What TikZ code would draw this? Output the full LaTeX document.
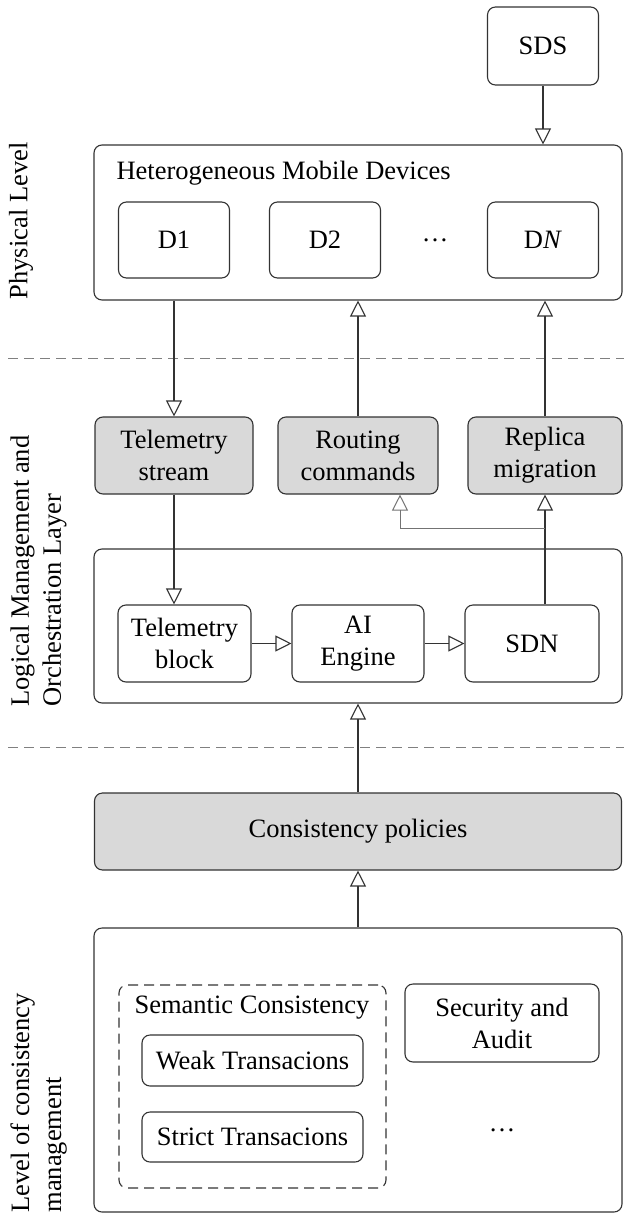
\documentclass[tikz,border=0pt]{standalone}
\usepackage{fontspec}
\setmainfont{Liberation Serif}
\usetikzlibrary{arrows.meta,calc}
\begin{document}
\begin{tikzpicture}[x=1pt,y=-1pt,
  font=\fontsize{26.5}{32}\selectfont,
  line width=1.1pt,
  box/.style={draw=black!80,rounded corners=8pt,align=center,inner sep=0pt},
  gbox/.style={box,fill=black!15},
  arr/.style={draw=black!80,-{Triangle[open,length=16pt,width=16pt]}},
  sep/.style={draw=black!50,dash pattern=on 10pt off 6pt,line width=1pt},
  lbl/.style={rotate=90,inner sep=0pt,align=left}]
\useasboundingbox (0,0) rectangle (624,1218);
% physical level
\node[box,minimum width=111pt,minimum height=78pt] (sds) at (543,46) {SDS};
\node[box,minimum width=528pt,minimum height=155pt] (phys) at (358,222.5) {};
\node[anchor=west,inner sep=0pt] (hmd) at (116,173) {Heterogeneous Mobile Devices};
\node[box,minimum width=111pt,minimum height=76pt] (d1) at (174,240) {D1};
\node[box,minimum width=111pt,minimum height=76pt] (d2) at (325,240) {D2};
\node[box,minimum width=111pt,minimum height=76pt] (dn) at (543,240) {D\textit{N}};
\node[inner sep=0pt] (pdots) at (435,240) {\ldots};
\node[lbl,anchor=center] (lphys) at (21,221) {Physical Level};
\draw[arr] (sds.south) -- (sds.south |- phys.north);
\draw[sep] (8,358) -- (624,358);
% logical layer
\node[gbox,minimum width=158pt,minimum height=77pt] (ts) at (174,455.5) {Telemetry\\stream};
\node[gbox,minimum width=160pt,minimum height=77pt] (rc) at (358,455.5) {Routing\\commands};
\node[gbox,minimum width=154pt,minimum height=77pt] (rm) at (545,455.5) {Replica\\migration};
\node[box,minimum width=528pt,minimum height=154pt] (logic) at (358,626) {};
\node[box,minimum width=133pt,minimum height=77pt] (tb) at (184.5,643.5) {Telemetry\\block};
\node[box,minimum width=132pt,minimum height=77pt] (ai) at (358,643.5) {AI\\Engine};
\node[box,minimum width=134pt,minimum height=77pt] (sdn) at (532,643.5) {SDN};
\node[lbl,anchor=north west] (llog) at (10,707) {Logical Management and\\Orchestration Layer};
\draw[arr] (d1.south |- phys.south) -- (ts.north);
\draw[arr] (rc.north) -- (rc.north |- phys.south);
\draw[arr] (rm.north) -- (rm.north |- phys.south);
\draw[arr] (ts.south) -- (ts.south |- tb.north);
\draw[arr] (tb.east) -- (ai.west);
\draw[arr] (ai.east) -- (sdn.west);
\draw[arr] (rm.south |- sdn.north) -- (rm.south);
\coordinate (br) at ($(rm.south)+(0,34)$);
\draw[arr,draw=black!55,line width=1pt] (br) -| ([xshift=42pt]rc.south);
\draw[sep] (8,747) -- (624,747);
% consistency level
\node[gbox,minimum width=527pt,minimum height=77pt] (cp) at (358,831.5) {Consistency policies};
\node[box,minimum width=528pt,minimum height=284pt] (bot) at (358,1070) {};
\node[box,dashed,dash pattern=on 10pt off 6pt,minimum width=267pt,minimum height=203pt] (sem) at (252.5,1086.5) {};
\node[inner sep=0pt] (semt) at (252,1008) {Semantic Consistency};
\node[box,minimum width=221pt,minimum height=51pt] (weak) at (252.5,1060.5) {Weak Transacions};
\node[box,minimum width=221pt,minimum height=50pt] (strict) at (252.5,1137) {Strict Transacions};
\node[box,minimum width=194pt,minimum height=78pt] (sec) at (502,1023) {Security and\\Audit};
\node[inner sep=0pt] (bdots) at (502,1130) {\ldots};
\node[lbl,anchor=north west] (lcons) at (10,1213) {Level of consistency\\management};
\draw[arr] (cp.north) -- (logic.south);
\draw[arr] (bot.north) -- (cp.south);
\end{tikzpicture}
\end{document}
